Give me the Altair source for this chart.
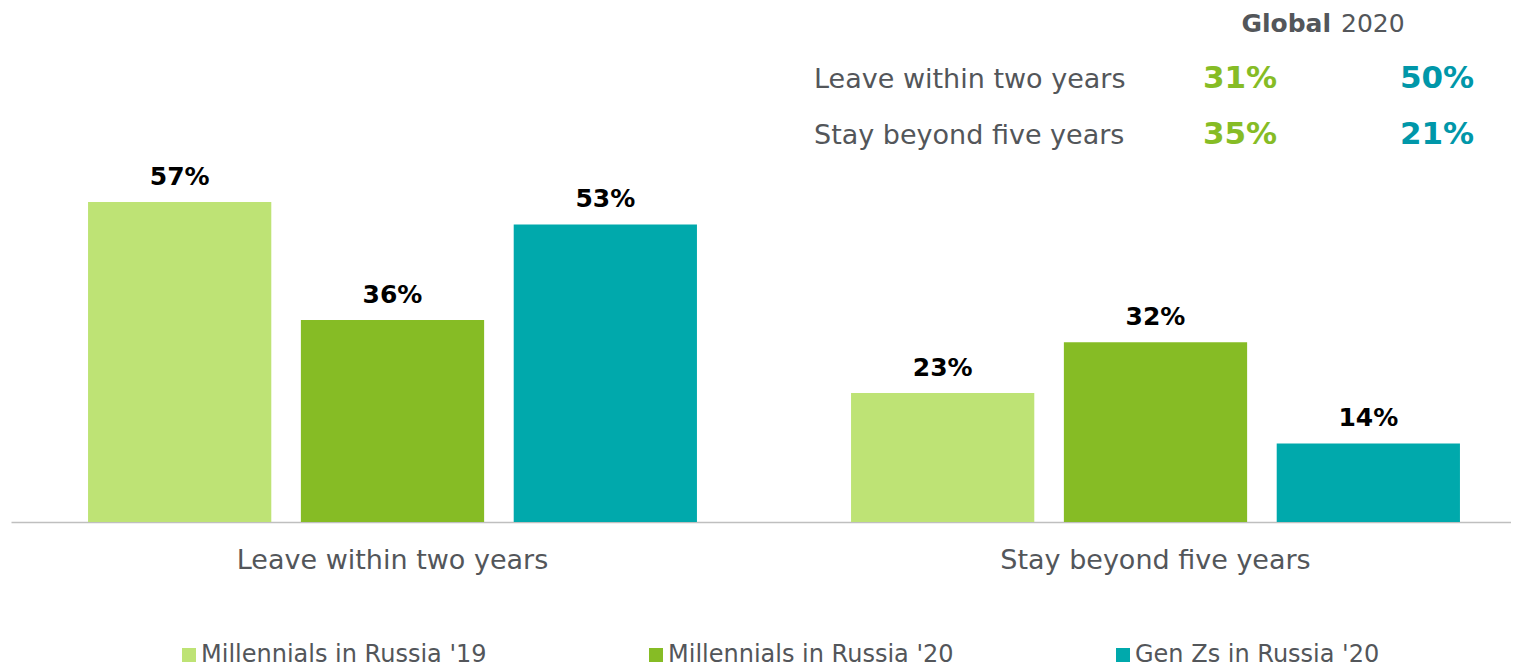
import altair as alt
import pandas as pd

# ---- data ----
categories = ["Leave within two years", "Stay beyond five years"]
series = ["Millennials in Russia '19", "Millennials in Russia '20", "Gen Zs in Russia '20"]
mill19 = [57, 23]
mill20 = [36, 32]
genz20 = [53, 14]

global_rows = ["Leave within two years", "Stay beyond five years"]
global_mill = [31, 35]
global_genz = [50, 21]
header_bold = "Global"
header_year = "2020"

# ---- styles ----
colors = ["#BEE375", "#86BC25", "#00A9AC"]
FONT = "DejaVu Sans"
GRAY = "#53565A"
TOP = 6
PLOT_H = 508
PX_PER_PCT = 5.614
YMAX = PLOT_H / PX_PER_PCT

rows = []
for i, c in enumerate(categories):
    for s, vals in zip(series, [mill19, mill20, genz20]):
        rows.append({"category": c, "series": s, "value": vals[i], "label": f"{vals[i]}%"})
df = pd.DataFrame(rows)

gdf = pd.DataFrame({
    "row": global_rows,
    "mill": [f"{v}%" for v in global_mill],
    "genz": [f"{v}%" for v in global_genz],
})
hdf = pd.DataFrame({"row": ["header"], "a": [header_bold], "b": [header_year]})

x = alt.X(
    "category:N", sort=categories,
    scale=alt.Scale(range=[0, 1526], paddingInner=0, paddingOuter=0),
    axis=alt.Axis(title=None, labelAngle=0, ticks=False, tickSize=0, labelPadding=46,
                  labelBaseline="alphabetic", labelFontSize=27, labelColor=GRAY,
                  labelFont=FONT, domainColor="#BFBFBF", domainWidth=1.5, grid=False,
                  labelLimit=0),
)
xo = alt.XOffset("series:N", sort=series,
                 scale=alt.Scale(paddingInner=0.139, paddingOuter=0.362))
y = alt.Y("value:Q", scale=alt.Scale(domain=[0, YMAX], nice=False, zero=True), axis=None)

bars = alt.Chart(df).mark_bar().encode(
    x=x, xOffset=xo, y=y,
    color=alt.Color(
        "series:N", sort=series,
        scale=alt.Scale(domain=series, range=colors),
        legend=alt.Legend(title=None, orient="none", legendX=166, legendY=629,
                          direction="horizontal", symbolType="square", symbolSize=196,
                          symbolStrokeWidth=0, labelFont=FONT, labelFontSize=24,
                          labelColor=GRAY, labelOffset=0, columnPadding=157,
                          gridAlign="all", labelLimit=0),
    ),
)
bar_labels = alt.Chart(df).mark_text(
    font=FONT, fontSize=25, fontWeight="bold", color="#000000",
    baseline="alphabetic", dy=-17,
).encode(x=x, xOffset=xo, y=y, text="label:N")

ty = alt.Y("row:N", scale=alt.Scale(type="point", domain=["header"] + global_rows,
                                   range=[18, 130], padding=0), axis=None)

t_rows = alt.Chart(gdf).mark_text(
    font=FONT, fontSize=27, color=GRAY, align="left", baseline="alphabetic"
).encode(x=alt.value(803), y=ty, text="row:N")
t_mill = alt.Chart(gdf).mark_text(
    font=FONT, fontSize=31, fontWeight="bold", color="#86BC25", align="center",
    baseline="alphabetic"
).encode(x=alt.value(1229), y=ty, text="mill:N")
t_genz = alt.Chart(gdf).mark_text(
    font=FONT, fontSize=31, fontWeight="bold", color="#0097A9", align="center",
    baseline="alphabetic"
).encode(x=alt.value(1426), y=ty, text="genz:N")
t_h1 = alt.Chart(hdf).mark_text(
    font=FONT, fontSize=25, fontWeight="bold", color=GRAY, align="right",
    baseline="alphabetic"
).encode(x=alt.value(1320), y=ty, text="a:N")
t_h2 = alt.Chart(hdf).mark_text(
    font=FONT, fontSize=25, color=GRAY, align="left", baseline="alphabetic"
).encode(x=alt.value(1330), y=ty, text="b:N")

main = alt.layer(bars, bar_labels)
table = alt.layer(t_rows, t_mill, t_genz, t_h1, t_h2)

chart = alt.layer(main, table).resolve_scale(y="independent").properties(
    width=1500, height=PLOT_H,
    autosize=alt.AutoSizeParams(type="none"),
    padding={"left": 3, "top": TOP, "right": 0, "bottom": 146},
).configure_view(stroke=None)

chart.save("out.html", embed_options={"renderer": "svg", "actions": False})
